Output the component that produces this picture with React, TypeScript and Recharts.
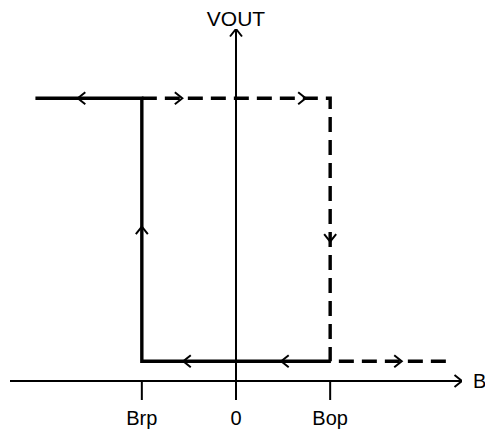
import { ComposedChart, Line, Scatter, XAxis, YAxis, ReferenceLine, ReferenceDot, Label } from "recharts";

// B axis: Brp = -1, 0, Bop = +1 ; VOUT: low = 0.07, high = 1
const X_MIN = -2.4;
const X_MAX = 2.4;
const Y_MIN = -0.067;
const Y_MAX = 1.245;

const tickValues = [-1, 0, 1];
const tickLabels = ["Brp", "0", "Bop"];

// solid branch (B falling): high -> Brp -> low
const solidPath = [
  { x: -2.13, y: 1 },
  { x: -1, y: 1 },
  { x: -1, y: 0.07 },
  { x: 1, y: 0.07 },
];

// dashed branch (B rising): high -> Bop -> low
const dashedPath = [
  { x: -1, y: 1 },
  { x: 1, y: 1 },
  { x: 1, y: 0.07 },
  { x: 2.25, y: 0.07 },
];

const xAxisLine = [
  { x: X_MIN, y: 0 },
  { x: X_MAX, y: 0 },
];
const yAxisLine = [
  { x: 0, y: Y_MIN },
  { x: 0, y: Y_MAX },
];

const pathArrows = [
  { x: -1.68, y: 1, dir: "left" },
  { x: -0.57, y: 1, dir: "right" },
  { x: 0.74, y: 1, dir: "right" },
  { x: -1, y: 0.546, dir: "up" },
  { x: 1, y: 0.493, dir: "down" },
  { x: -0.56, y: 0.07, dir: "left" },
  { x: 0.48, y: 0.07, dir: "left" },
  { x: 1.76, y: 0.07, dir: "right" },
];

const axisArrows = [
  { x: X_MAX, y: 0, dir: "right" },
  { x: 0, y: Y_MAX, dir: "up" },
];

const Chevron = (props: any) => {
  const { cx, cy, payload } = props;
  if (cx == null || cy == null) return null;
  const w = 7.5;
  const h = 6;
  let d = "";
  switch (payload.dir) {
    case "left":
      d = `M${cx + w},${cy - h}L${cx},${cy}L${cx + w},${cy + h}`;
      break;
    case "right":
      d = `M${cx - w},${cy - h}L${cx},${cy}L${cx - w},${cy + h}`;
      break;
    case "up":
      d = `M${cx - h},${cy + w}L${cx},${cy}L${cx + h},${cy + w}`;
      break;
    default:
      d = `M${cx - h},${cy - w}L${cx},${cy}L${cx + h},${cy - w}`;
  }
  return <path d={d} fill="none" stroke="#000" strokeWidth={2} />;
};

const App = () => {
  return (
    <div style={{ position: "absolute", left: 0, top: 0, fontFamily: "'Liberation Sans', Arial, sans-serif" }}>
      <ComposedChart width={485} height={433} margin={{ top: 29, right: 23, left: 10, bottom: 0 }}>
        <XAxis
          type="number"
          dataKey="x"
          domain={[X_MIN, X_MAX]}
          allowDataOverflow
          ticks={tickValues}
          interval={0}
          tickFormatter={(v: number) => tickLabels[tickValues.indexOf(v)]}
          height={33}
          axisLine={false}
          tickLine={false}
          tickSize={0}
          tickMargin={11}
          tick={{ fill: "#000", fontSize: 20 }}
        />
        <YAxis type="number" dataKey="y" domain={[Y_MIN, Y_MAX]} allowDataOverflow hide />

        <Line data={xAxisLine} dataKey="y" stroke="#000" strokeWidth={2} dot={false} activeDot={false} isAnimationActive={false} />
        <Line data={yAxisLine} dataKey="y" stroke="#000" strokeWidth={2} dot={false} activeDot={false} isAnimationActive={false} />
        {tickValues
          .filter((v) => v !== 0)
          .map((v) => (
            <ReferenceLine
              key={v}
              segment={[
                { x: v, y: 0 },
                { x: v, y: Y_MIN },
              ]}
              stroke="#000"
              strokeWidth={2}
            />
          ))}

        <Line
          data={dashedPath}
          dataKey="y"
          type="linear"
          stroke="#000"
          strokeWidth={3.4}
          strokeDasharray="15 8"
          strokeLinejoin="miter"
          dot={false}
          activeDot={false}
          isAnimationActive={false}
        />
        <Line
          data={solidPath}
          dataKey="y"
          type="linear"
          stroke="#000"
          strokeWidth={3.4}
          strokeLinejoin="miter"
          dot={false}
          activeDot={false}
          isAnimationActive={false}
        />

        <Scatter data={pathArrows} dataKey="y" shape={Chevron} isAnimationActive={false} />
        <Scatter data={axisArrows} dataKey="y" shape={Chevron} isAnimationActive={false} />

        <ReferenceDot x={0} y={Y_MAX} r={0} fill="none" stroke="none">
          <Label value="VOUT" position="top" offset={3} fill="#000" fontSize={21} />
        </ReferenceDot>
        <ReferenceDot x={X_MAX} y={0} r={0} fill="none" stroke="none">
          <Label value="B" position="right" offset={11} fill="#000" fontSize={20} />
        </ReferenceDot>
      </ComposedChart>
    </div>
  );
};

export default App;
